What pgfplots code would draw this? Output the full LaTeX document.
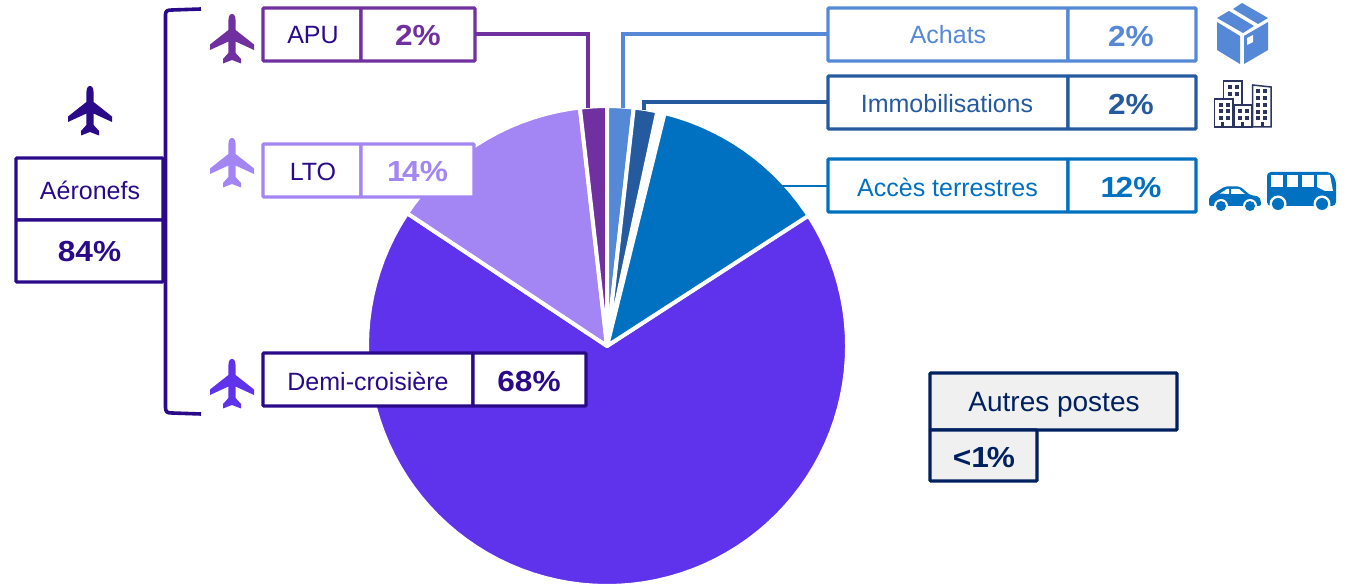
\documentclass[border=0pt]{standalone}
\usepackage{pgfplots}
\pgfplotsset{compat=1.18}
\usepackage{fontspec}
\setmainfont{Liberation Sans}
\newfontfamily\valfont[FakeStretch=1.09]{Liberation Sans}
\definecolor{indigo}{HTML}{2B0A8A}
\definecolor{demi}{HTML}{5F33EC}
\definecolor{lto}{HTML}{A385F3}
\definecolor{apu}{HTML}{7030A0}
\definecolor{achats}{HTML}{5588D6}
\definecolor{immo}{HTML}{265A9F}
\definecolor{acces}{HTML}{0070C0}
\definecolor{autres}{HTML}{002060}
\definecolor{bat}{HTML}{2B3560}
\newcommand{\lab}[1]{\fontsize{25}{28}\selectfont #1}
\newcommand{\val}[1]{\valfont\fontsize{29}{32}\selectfont\bfseries #1}
% box
\newcommand{\bx}[5]{\draw[#5,line width=3.2pt,rounded corners=0.8pt,fill=#1] (#2) rectangle (#3);}
% plane centred at (cx,cy)
\newcommand{\plane}[3]{\fill[#3,shift={(#1,#2)}] (0,-25) .. controls (2.6,-25) and (3.6,-22) .. (3.6,-18) -- (3.6,-9) -- (22,5.5) -- (22,11) -- (3.6,2.5) -- (3.6,14) -- (9,20) -- (9,24.5) -- (0,21) -- (-9,24.5) -- (-9,20) -- (-3.6,14) -- (-3.6,2.5) -- (-22,11) -- (-22,5.5) -- (-3.6,-9) -- (-3.6,-18) .. controls (-3.6,-22) and (-2.6,-25) .. (0,-25) -- cycle;}
\begin{document}
\begin{tikzpicture}[x=1pt,y=1pt]
\useasboundingbox (0,0) rectangle (1353,584);
\begin{axis}[at={(0,0)},anchor=south west,scale only axis,width=1353pt,height=584pt,
  xmin=-607,xmax=746,ymin=-238,ymax=346,hide axis,clip=false,data cs=polar]
% Demi-croisiere 68%
\addplot[fill=demi,draw=white,line width=4pt,line join=round] coordinates {(0,0)(33,240)(30,240)(27,240)(24,240)(21,240)(18,240)(15,240)(12,240)(9,240)(6,240)(3,240)(0,240)(-3,240)(-6,240)(-9,240)(-12,240)(-15,240)(-18,240)(-21,240)(-24,240)(-27,240)(-30,240)(-33,240)(-36,240)(-39,240)(-42,240)(-45,240)(-48,240)(-51,240)(-54,240)(-57,240)(-60,240)(-63,240)(-66,240)(-69,240)(-72,240)(-75,240)(-78,240)(-81,240)(-84,240)(-87,240)(-90,240)(-93,240)(-96,240)(-99,240)(-102,240)(-105,240)(-108,240)(-111,240)(-114,240)(-117,240)(-120,240)(-123,240)(-126,240)(-129,240)(-132,240)(-135,240)(-138,240)(-141,240)(-144,240)(-147,240)(-150,240)(-153,240)(-156,240)(-159,240)(-162,240)(-165,240)(-168,240)(-171,240)(-174,240)(-177,240)(-180,240)(-183,240)(-186,240)(-189,240)(-192,240)(-195,240)(-198,240)(-201,240)(-204,240)(-207,240)(-210,240)(-213.6,240)} -- cycle;
% LTO 14%
\addplot[fill=lto,draw=white,line width=4pt,line join=round] coordinates {(0,0)(146.4,240)(144,240)(141,240)(138,240)(135,240)(132,240)(129,240)(126,240)(123,240)(120,240)(117,240)(114,240)(111,240)(108,240)(105,240)(102,240)(99,240)(96.5,240)} -- cycle;
% APU 2%
\addplot[fill=apu,draw=white,line width=4pt,line join=round] coordinates {(0,0)(96.5,240)(93,240)(90,240)} -- cycle;
% Achats 2%
\addplot[fill=achats,draw=white,line width=4pt,line join=round] coordinates {(0,0)(90,240)(87,240)(83.6,240)} -- cycle;
% Immobilisations 2%
\addplot[fill=immo,draw=white,line width=4pt,line join=round] coordinates {(0,0)(83.6,240)(81,240)(77.9,240)} -- cycle;
% Acces terrestres 12%
\addplot[fill=acces,draw=white,line width=4pt,line join=round] coordinates {(0,0)(76.1,240)(73,240)(70,240)(67,240)(64,240)(61,240)(58,240)(55,240)(52,240)(49,240)(46,240)(43,240)(40,240)(37,240)(34,240)(32.9,240)} -- cycle;
\end{axis}
\begin{scope}[x=1pt,y=-1pt,yshift=584pt]
% leaders
\draw[apu,line width=3.8pt] (475,34) -- (588,34) -- (588,108);
\draw[achats,line width=3.8pt] (828,34) -- (623,34) -- (623,108);
\draw[immo,line width=3.8pt] (828,102) -- (644,102) -- (644,110);
\draw[acces,line width=2.2pt] (828,186) -- (782,186);
% bracket
\draw[indigo,line width=3.6pt] (201,9) -- (172,10) .. controls (167,10) and (165.5,11) .. (165.5,15) -- (165.5,407) .. controls (165.5,412) and (167,413) .. (172,413) -- (201,414);
% Aeronefs
\bx{white}{16,158}{163,220}{indigo}{indigo}
\bx{white}{16,220}{163,282}{indigo}{indigo}
\node[text=indigo] at (90,190.5) {\lab{Aéronefs}};
\node[text=indigo] at (89.5,252) {\val{84\%}};
% APU
\bx{white}{263,8}{361,61}{apu}{apu}
\bx{white}{361,8}{475,61}{apu}{apu}
\node[text=indigo] at (313,35) {\lab{APU}};
\node[text=apu] at (418,35.5) {\val{2\%}};
% LTO
\bx{white}{263,144}{361,197}{lto}{lto}
\bx{white}{361,144}{474,197}{lto}{lto}
\node[text=indigo] at (313,172) {\lab{LTO}};
\node[text=lto] at (417.5,172) {\val{1\kern-2.5pt 4\%}};
% Demi
\bx{white}{263,353}{473,406}{indigo}{indigo}
\bx{white}{473,353}{586,406}{indigo}{indigo}
\node[text=indigo] at (368,381) {\lab{Demi-croisière}};
\node[text=indigo] at (529,381.5) {\val{68\%}};
% Achats
\bx{white}{828,8}{1068,61}{achats}{achats}
\bx{white}{1068,8}{1196,61}{achats}{achats}
\node[text=achats] at (948,35) {\lab{Achats}};
\node[text=achats] at (1131,36) {\val{2\%}};
% Immo
\bx{white}{828,76}{1068,129}{immo}{immo}
\bx{white}{1068,76}{1196,129}{immo}{immo}
\node[text=immo] at (947,104) {\lab{Immobilisations}};
\node[text=immo] at (1131,104.5) {\val{2\%}};
% Acces
\bx{white}{828,159}{1068,212}{acces}{acces}
\bx{white}{1068,159}{1196,212}{acces}{acces}
\node[text=acces] at (947.5,187) {\lab{Accès terrestres}};
\node[text=acces] at (1131,187.5) {\val{1\kern-2.5pt 2\%}};
% Autres
\bx{black!6}{930,373}{1177,430}{autres}{autres}
\bx{black!6}{930,430}{1037,481}{autres}{autres}
\node[text=autres] at (1054,404.5) {\fontsize{28}{30}\selectfont Autres postes};
\node[text=autres] at (984,457.5) {\val{<1\kern-2pt\%}};
% planes
\plane{90}{111}{indigo}
\plane{232}{39}{apu}
\plane{232}{163}{lto}
\plane{232}{384}{demi}
% box icon
\fill[achats] (1242,3) -- (1268,18) -- (1258,24) -- (1233,9) -- cycle;
\fill[achats] (1229,11) -- (1254,26) -- (1243,33) -- (1217,18) -- cycle;
\fill[achats] (1217,22) -- (1240,36) -- (1240,64) -- (1217,50) -- cycle;
\fill[achats] (1244,36) -- (1268,22) -- (1268,50) -- (1244,64) -- cycle;
\fill[white] (1247,38) -- (1253,35) -- (1253,42) -- (1247,45) -- cycle;
% buildings
\begin{scope}[bat,line width=1.5pt]
\draw[fill=white] (1223.5,127) rectangle (1242,81);
\draw[fill=white] (1252.5,127) -- (1252.5,85) -- (1271,87) -- (1271,127) -- cycle;
\draw[fill=white] (1214.5,127) rectangle (1233,99);
\draw[fill=white] (1234,127) rectangle (1252,105);
\foreach \x in {1228,1235} \foreach \y in {85,92} \fill (\x,\y) rectangle ++(4,4);
\foreach \x in {1218.5,1226} \foreach \y in {103,109.5,116} \fill (\x,\y) rectangle ++(4,4);
\foreach \x in {1238,1245} \foreach \y in {109.5,116} \fill (\x,\y) rectangle ++(4,4);
\foreach \x in {1256,1263} \foreach \y in {89,96,103,110,116} \fill (\x,\y) rectangle ++(4,4);
\foreach \x in {1221,1241,1261} \fill (\x,122) rectangle ++(3,5);
\end{scope}
% car
\fill[acces,rounded corners=2pt] (1209,206) -- (1209,197) -- (1216,192) -- (1225,186.5) -- (1240,186.5) -- (1250,195) -- (1259,196.5) -- (1261,201) -- (1261,206) -- cycle;
\fill[white] (1220,193.5) -- (1227,189) -- (1229,189) -- (1229,194) -- cycle;
\fill[white] (1231,189) -- (1239,189) -- (1245,194) -- (1231,194) -- cycle;
\foreach \x in {1221,1250} {\fill[white] (\x,206) circle (7); \fill[acces] (\x,206) circle (5);}
% bus
\fill[acces,rounded corners=4pt] (1267,172) -- (1331,172) -- (1336,180) -- (1336,206) -- (1267,206) -- cycle;
\fill[white] (1271,175) rectangle (1283,187);
\fill[white] (1286.5,175) rectangle (1298,187);
\fill[white] (1302,175) rectangle (1314,187);
\fill[white] (1317,175) -- (1330,175) -- (1333,191) -- (1325,191) -- (1317,187) -- cycle;
\foreach \x in {1278,1322} {\fill[white] (\x,204) circle (8.5); \fill[acces] (\x,204) circle (6);}
\end{scope}
\end{tikzpicture}
\end{document}
